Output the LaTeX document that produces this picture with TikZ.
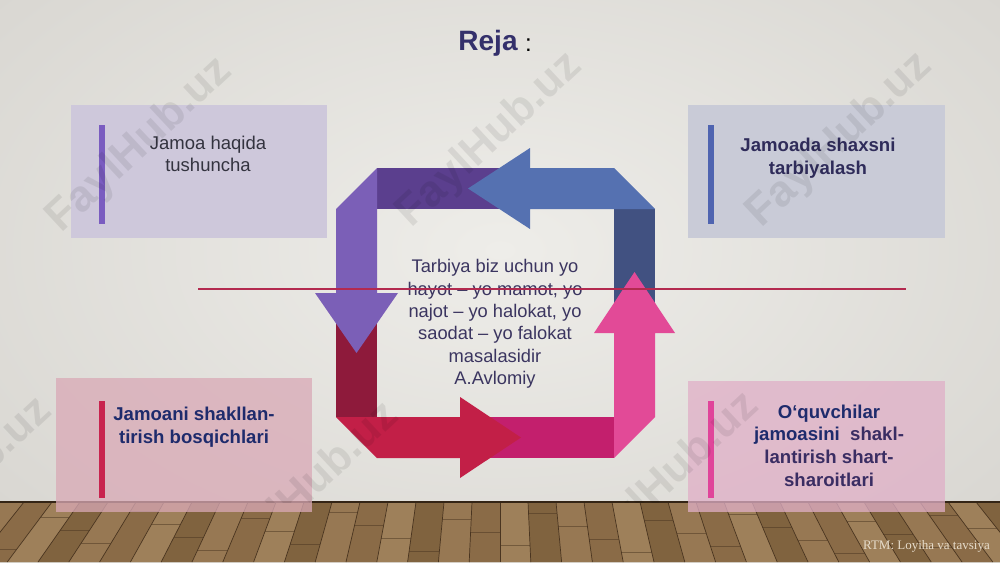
\documentclass[tikz,border=0pt]{standalone}
\usepackage{fontspec}
\setmainfont{Liberation Sans}
\newfontfamily\rtmfont{Liberation Serif}
\definecolor{wallin}{HTML}{EEEDE9}
\definecolor{wallout}{HTML}{D9D7D2}
\definecolor{pk0}{HTML}{8A6B47}
\definecolor{pk1}{HTML}{977853}
\definecolor{pk2}{HTML}{80633F}
\definecolor{pk3}{HTML}{9E805A}
\definecolor{pkline}{HTML}{4A3520}
\definecolor{dpurple}{HTML}{5B3F8E}
\definecolor{lpurple}{HTML}{7B5FB7}
\definecolor{dblue}{HTML}{415181}
\definecolor{lblue}{HTML}{5571B1}
\definecolor{dred}{HTML}{8E1A3B}
\definecolor{crimson}{HTML}{C21F47}
\definecolor{magen}{HTML}{C31F6D}
\definecolor{pinkarr}{HTML}{E24A97}
\definecolor{boxtl}{HTML}{CEC8DB}
\definecolor{boxtr}{HTML}{C9CBD7}
\definecolor{boxbl}{HTML}{D9A9B6}
\definecolor{boxbr}{HTML}{E0AFC7}
\definecolor{bartl}{HTML}{7A5CC0}
\definecolor{bartr}{HTML}{4F64B0}
\definecolor{barbl}{HTML}{C8234E}
\definecolor{barbr}{HTML}{E0449A}
\definecolor{txtgray}{HTML}{33333F}
\definecolor{txtnavy}{HTML}{1E2B6C}
\definecolor{txtpurp}{HTML}{3A2D63}
\definecolor{txtdark}{HTML}{2F2C5A}
\definecolor{centertxt}{HTML}{3B3560}
\definecolor{titlecol}{HTML}{34306B}
\definecolor{redline}{HTML}{B32A4F}
\definecolor{rtmcol}{HTML}{E6DCCB}
\begin{document}
\begin{tikzpicture}[x=1pt,y=-1pt,
  wm/.style={font=\bfseries\fontsize{44}{44}\selectfont, text=black, text opacity=0.08, rotate=43, inner sep=0pt},
  boxtext/.style={align=center, inner sep=0pt},
  normtext/.style={font=\fontsize{18.5}{22}\selectfont},
  boldtext/.style={font=\bfseries\fontsize{18.6}{23}\selectfont}
]
\useasboundingbox (0,0) rectangle (1000,562);
% wall
\shade[inner color=wallin, outer color=wallout] (-150,-150) rectangle (1150,650);
% floor
\fill[pk0] (0,502) rectangle (1000,562);
\foreach \i in {0,...,40}{
  \pgfmathsetmacro\ta{-60+28*\i}
  \pgfmathsetmacro\tb{\ta+28}
  \pgfmathsetmacro\ba{500+(\ta-500)*1.1}
  \pgfmathsetmacro\bb{500+(\tb-500)*1.1}
  \pgfmathtruncatemacro\c{mod(\i*7+3,4)}
  \fill[pk\c] (\ta,502) -- (\tb,502) -- (\bb,562) -- (\ba,562) -- cycle;
  \draw[pkline, line width=0.7pt] (\ta,502) -- (\ba,562);
  \pgfmathsetmacro\jy{510+mod(\i*13,45)}
  \pgfmathsetmacro\jx{500+(\ta-500)*(1+0.1*(\jy-502)/60)}
  \pgfmathsetmacro\jxb{500+(\tb-500)*(1+0.1*(\jy-502)/60)}
  \draw[pkline, line width=0.5pt, opacity=0.5] (\jx,\jy) -- (\jxb,\jy);
}
\draw[pkline!70!black, line width=1.5pt] (0,502) -- (1000,502);
% boxes
\fill[boxtl] (71,105) rectangle (327,238);
\fill[boxtr] (688,105) rectangle (945,238);
\fill[boxbl, fill opacity=0.75] (56,378) rectangle (312,512);
\fill[boxbr, fill opacity=0.75] (688,381) rectangle (945,512);
\fill[bartl] (99,125) rectangle (105,224);
\fill[bartr] (708,125) rectangle (714,224);
\fill[barbl] (99,401) rectangle (105,498);
\fill[barbr] (708,401) rectangle (714,498);
% box texts
\node[boxtext, normtext, text=txtgray] (tl) at (208,153.5) {Jamoa haqida\\tushuncha};
\node[boxtext, boldtext, text=txtdark] (tr) at (818,158.5) {Jamoada shaxsni\\tarbiyalash};
\node[boxtext, boldtext, text=txtnavy] (bl) at (194,427) {Jamoani shakllan-\\tirish bosqichlari};
\node[boxtext, font=\bfseries\fontsize{18.6}{22.7}\selectfont, text=txtpurp] (br) at (829,445.5)
  {\textcolor{txtnavy}{O‘quvchilar}\\\textcolor{txtnavy}{jamoasini}\ \ shakl-\\lantirish shart-\\sharoitlari};
% title
\node[font=\bfseries\fontsize{28}{30}\selectfont, text=titlecol, inner sep=0pt] (title) at (488,43) {Reja};
\node[font=\fontsize{24}{26}\selectfont, text=black, inner sep=0pt, anchor=west] (colon) at (525,45) {:};
% cycle arrows: back (dark) parts
\fill[dpurple] (377,168) rectangle (540,209);
\fill[dblue] (614,209) rectangle (655,340);
\fill[dred] (336,290) rectangle (377,417);
\fill[magen] (450,417) rectangle (614,458);
% front parts
\fill[lblue] (655,209) -- (614,168) -- (530,168) -- (530,148) -- (468,188.5) -- (530,229) -- (530,209) -- cycle;
\fill[lpurple] (377,168) -- (336,209) -- (336,293) -- (315,293) -- (356.5,353) -- (398,293) -- (377,293) -- cycle;
\fill[crimson] (336,417) -- (377,458) -- (460,458) -- (460,478) -- (521,437.5) -- (460,397) -- (460,417) -- cycle;
\fill[pinkarr] (614,458) -- (655,417) -- (655,333) -- (675,333) -- (634.5,272) -- (594,333) -- (614,333) -- cycle;
% center text
\node[align=center, inner sep=0pt, font=\fontsize{18.3}{22.4}\selectfont, text=centertxt] (quote) at (495,324)
  {Tarbiya biz uchun yo\\hayot -- yo mamot, yo\\najot -- yo halokat, yo\\saodat -- yo falokat\\masalasidir\\A.Avlomiy};
% red line
\coordinate (la) at (198,289);
\coordinate (lb) at (906,289);
\draw[redline, line width=2pt] (la) -- (lb);
% watermarks
\begin{scope}
\clip (0,0) rectangle (1000,502);
\node[wm] (w1) at (140,145) {FaylHub.uz};
\node[wm] (w2) at (490,140) {FaylHub.uz};
\node[wm] (w3) at (840,140) {FaylHub.uz};
\node[wm] (w4) at (-40,485) {FaylHub.uz};
\node[wm] (w5) at (307,490) {FaylHub.uz};
\node[wm] (w6) at (667,480) {FaylHub.uz};
\end{scope}
% footer
\node[font=\rtmfont\fontsize{13}{14}\selectfont, text=rtmcol, anchor=east, inner sep=0pt] (rtm) at (990,546) {RTM: Loyiha va tavsiya};
\end{tikzpicture}
\end{document}
